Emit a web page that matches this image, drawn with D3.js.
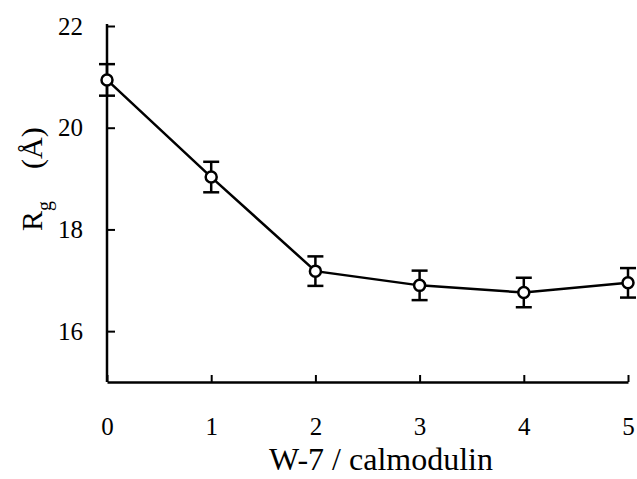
<!DOCTYPE html>
<html>
<head>
<meta charset="utf-8">
<script src="https://cdn.jsdelivr.net/npm/d3@7"></script>
<style>
	body { margin: 0; background: #fff; }
	svg { display: block; }
</style>
</head>
<body>
<div id="chart"></div>
<script>
'use strict';

// W-7 / calmodulin ratio vs radius of gyration
const ratios = [0, 1, 2, 3, 4, 5];
const rg = [20.94, 19.03, 17.18, 16.90, 16.76, 16.95];
const rgErr = [0.31, 0.30, 0.29, 0.29, 0.29, 0.29];
const xTicks = [0, 1, 2, 3, 4, 5];
const yTicks = [16, 18, 20, 22];

const width = 637, height = 479;
const serif = "'Liberation Serif', 'Times New Roman', serif";

const svg = d3.select("#chart")
	.append("svg")
		.attr("width", width)
		.attr("height", height)
		.style("font-family", serif);

const xScale = d3.scaleLinear()
	.domain([0, 5])
	.range([107, 628]);

const yScale = d3.scaleLinear()
	.domain([15, 22])
	.range([382, 26]);

// axes, ticks pointing inward
const xAxis = svg.append("g")
	.attr("transform", "translate(0,382)")
	.call(d3.axisBottom(xScale)
		.tickValues(xTicks)
		.tickFormat(d3.format("d"))
		.tickSizeInner(-7)
		.tickSizeOuter(0)
		.tickPadding(35));

const yAxis = svg.append("g")
	.attr("transform", "translate(107,0)")
	.call(d3.axisLeft(yScale)
		.tickValues(yTicks)
		.tickFormat(d3.format("d"))
		.tickSizeInner(-8)
		.tickSizeOuter(0)
		.tickPadding(24));

[xAxis, yAxis].forEach(a => {
	a.attr("font-family", null).attr("font-size", null);
	a.select(".domain").attr("stroke", "#000").attr("stroke-width", 2.5);
	a.selectAll(".tick line").attr("stroke", "#000").attr("stroke-width", 2);
	a.selectAll(".tick text")
		.style("font-family", serif)
		.style("font-size", "25px")
		.attr("fill", "#000");
});
// extend the y axis a touch above 22 like the original
yAxis.select(".domain").attr("d", `M0,${yScale(15)}V${yScale(22) - 2}`);

// line through the points
const lineGenerator = d3.line()
	.x((d, i) => xScale(ratios[i]))
	.y(d => yScale(d));

svg.append("path")
	.datum(rg)
	.attr("d", lineGenerator)
	.attr("fill", "none")
	.attr("stroke", "#000")
	.attr("stroke-width", 2.5);

// error bars
const bars = svg.append("g")
	.selectAll("g")
	.data(rg)
	.join("g");

bars.append("line")
	.attr("x1", (d, i) => xScale(ratios[i]))
	.attr("x2", (d, i) => xScale(ratios[i]))
	.attr("y1", (d, i) => yScale(d + rgErr[i]))
	.attr("y2", (d, i) => yScale(d - rgErr[i]))
	.attr("stroke", "#000")
	.attr("stroke-width", 2.5);

[1, -1].forEach(s => {
	bars.append("line")
		.attr("x1", (d, i) => xScale(ratios[i]) - 8)
		.attr("x2", (d, i) => xScale(ratios[i]) + 8)
		.attr("y1", (d, i) => yScale(d + s * rgErr[i]))
		.attr("y2", (d, i) => yScale(d + s * rgErr[i]))
		.attr("stroke", "#000")
		.attr("stroke-width", 2.5);
});

// open circle markers
bars.append("circle")
	.attr("cx", (d, i) => xScale(ratios[i]))
	.attr("cy", d => yScale(d))
	.attr("r", 5.5)
	.attr("fill", "#fff")
	.attr("stroke", "#000")
	.attr("stroke-width", 2.5);

// axis titles
svg.append("text")
	.attr("x", 381)
	.attr("y", 470)
	.attr("text-anchor", "middle")
	.style("font-family", serif)
	.style("font-size", "32px")
	.text("W-7 / calmodulin");

const yTitle = svg.append("text")
	.attr("transform", "translate(42,231) rotate(-90)")
	.attr("text-anchor", "start")
	.style("font-family", serif)
	.style("font-size", "30px");
yTitle.append("tspan").text("R");
yTitle.append("tspan")
	.style("font-size", "20px")
	.attr("dy", 9)
	.text("g");
yTitle.append("tspan")
	.attr("dy", -9)
	.attr("dx", 32)
	.text("(Å)");
</script>
</body>
</html>
